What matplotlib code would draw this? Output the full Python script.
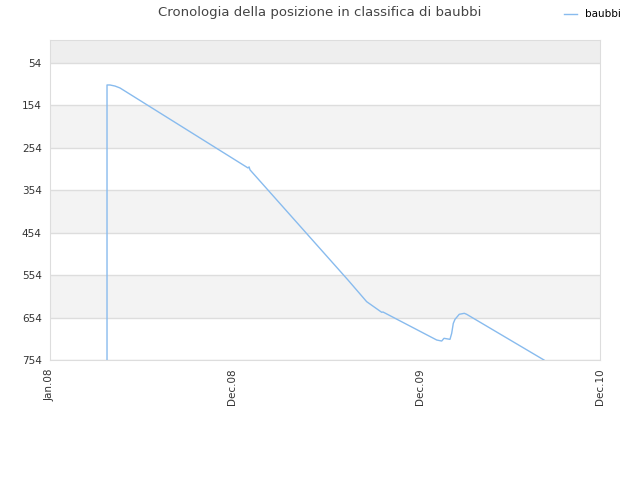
import numpy as np
import matplotlib
matplotlib.use("Agg")
from matplotlib import pyplot as plt

# days since Jan 1 2008, and ranking position
days = [110.4, 110.4, 116.2, 125.9, 135.5, 383.4, 385.5, 387.3, 577.0, 613.2,
        642.3, 644.8, 748.8, 758.5, 762.9, 774.5, 777.8, 780.9, 784.2,
        792.5, 802.2, 806.8, 956.5]
ranks = [760, 106, 106, 108.5, 113, 301.5, 299, 306, 565.5, 616.6,
         641.6, 640.9, 706.9, 709.3, 702.9, 705.3, 691.2, 667.8, 658.2,
         646.3, 644, 646.3, 754]

tick_labels = ["Jan.08", "Dec.08", "Dec.09", "Dec.10"]
tick_days = [0, 352, 717, 1065]
ytick_values = [54, 154, 254, 354, 454, 554, 654, 754]

fig = plt.figure(figsize=(6.4, 4.8), dpi=100)
ax = fig.add_axes([50 / 640, 1 - 360 / 480, 550 / 640, 320 / 480])

# background bands
ax.axhspan(0, 54, color="#eeeeee", zorder=0, lw=0)
for i, lo in enumerate(ytick_values[:-1]):
    if i % 2 == 1:
        ax.axhspan(lo, lo + 100, color="#f3f3f3", zorder=0, lw=0)

ax.plot(days, ranks, color="#88bbee", lw=1, label="baubbi", zorder=3)

ax.set_xlim(tick_days[0], tick_days[-1])
ax.set_ylim(754, 0)
ax.set_yticks(ytick_values)
ax.set_xticks(tick_days)
ax.set_xticklabels(tick_labels, rotation=90)
ax.tick_params(axis="both", length=0, labelsize=7.5, colors="#333333", pad=6)
ax.grid(axis="y", color="#dddddd", lw=1, zorder=1)
for s in ax.spines.values():
    s.set_color("#dddddd")

fig.suptitle("Cronologia della posizione in classifica di baubbi", x=0.5, y=0.988,
             fontsize=9.5, color="#444444")
fig.legend(loc="upper right", bbox_to_anchor=(0.985, 1.0), frameon=False,
           fontsize=7.5, handlelength=1.2)

plt.savefig("out.png", dpi=100)
